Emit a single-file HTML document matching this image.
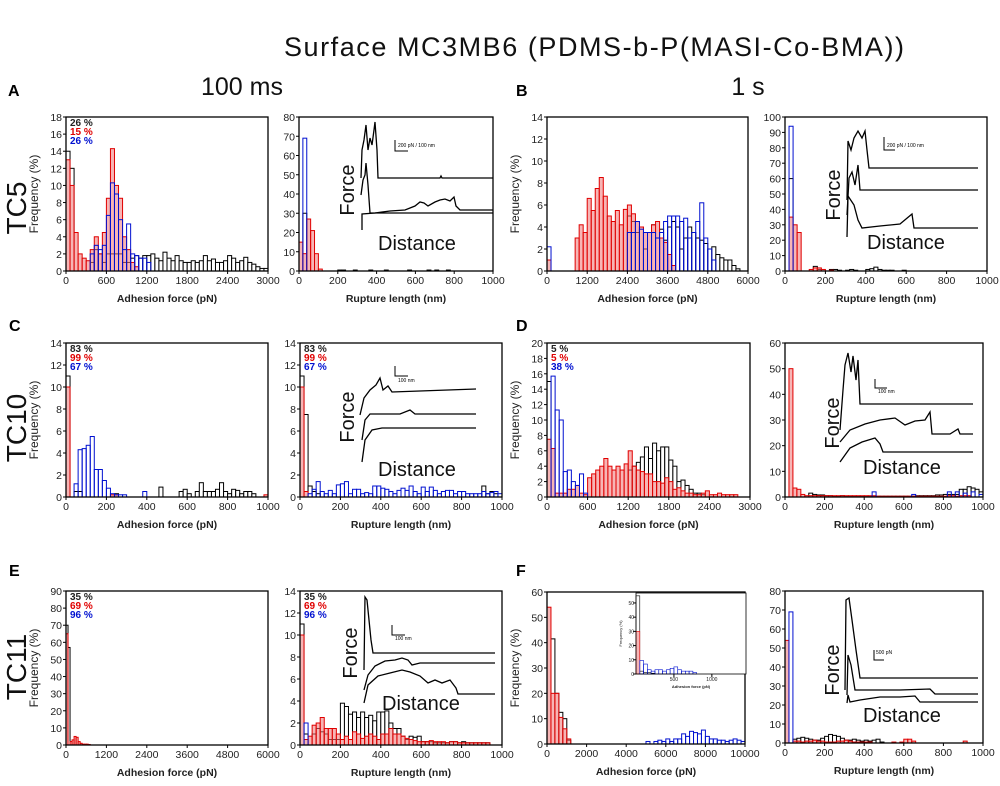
<!DOCTYPE html>
<html><head><meta charset="utf-8"><title>Surface MC3MB6 histograms</title>
<style>
html,body{margin:0;padding:0;background:#fff;}
svg{display:block;font-family:"Liberation Sans",sans-serif;}
</style></head>
<body>
<svg id="fig" width="1000" height="786" viewBox="0 0 1000 786" xmlns="http://www.w3.org/2000/svg">
<text x="594" y="56" text-anchor="middle" font-size="27" textLength="620" fill="#111">Surface MC3MB6 (PDMS-b-P(MASI-Co-BMA))</text>
<text x="242" y="95" text-anchor="middle" font-size="25" fill="#111">100 ms</text>
<text x="748" y="95" text-anchor="middle" font-size="25" fill="#111">1 s</text>
<g font-weight="bold" font-size="16" fill="#000">
<text x="8" y="96">A</text>
<text x="516" y="96">B</text>
<text x="9" y="331">C</text>
<text x="516" y="331">D</text>
<text x="9" y="576">E</text>
<text x="516" y="576">F</text>
</g>
<g font-size="28" fill="#111">
<text transform="translate(26,208) rotate(-90)" text-anchor="middle">TC5</text>
<text transform="translate(26,428) rotate(-90)" text-anchor="middle">TC10</text>
<text transform="translate(26,667) rotate(-90)" text-anchor="middle">TC11</text>
</g>
<g id="panels"></g>
<g id="insets" fill="none" stroke="#000" stroke-width="1.3">
<g>
<polyline points="361,178 362,150 364,140 366,125 368,150 370,138 372,145 374,130 375,122 377,150 378,178 420,178 440,178 441,176 442,178 493,178"/>
<polyline points="361,195 363,180 365,175 366,163 368,185 370,213 420,213 440,213 493,213"/>
<polyline points="362,230 362,214 375,213 390,211 405,210 415,206 420,202 424,203 428,206 435,202 440,200 445,199 450,201 454,197 456,206 460,210 493,210"/>
<polyline stroke-width="1" points="395,140 395,151 408,151"/>
</g>
<g>
<polyline points="847,200 848,141 851,150 854,138 858,131 862,138 865,131 867,150 869,168 978,168"/>
<polyline points="847,215 849,178 852,172 855,185 858,165 860,190 978,190"/>
<polyline points="847,237 848,196 852,202 854,205 858,220 862,228 880,226 900,224 912,214 914,228 978,228"/>
<polyline stroke-width="1" points="884,137 884,150 895,150"/>
</g>
<g>
<polyline points="360,415 364,398 370,390 376,385 380,378 383,390 388,386 392,392 476,389"/>
<polyline points="362,440 365,420 370,414 400,414 410,410 415,414 476,414"/>
<polyline points="362,462 365,440 372,430 382,428 476,428"/>
<polyline stroke-width="1" points="395,366 395,376 408,376"/>
</g>
<g>
<polyline points="840,430 843,390 845,365 848,353 851,372 853,356 856,380 858,360 860,404 973,404"/>
<polyline points="840,442 850,430 865,424 880,420 895,418 905,425 915,421 925,420 930,412 932,434 950,434 958,429 960,434 973,434"/>
<polyline points="840,462 850,448 862,442 875,438 880,444 883,452 973,452"/>
<polyline stroke-width="1" points="875,379 875,388 887,388"/>
</g>
<g>
<polyline points="364,670 365,597 367,600 369,620 371,640 373,653 495,653"/>
<polyline points="364,690 368,675 375,666 385,661 395,660 402,658 408,660 412,665 420,663 430,663 495,663"/>
<polyline points="364,703 368,685 378,676 390,673 402,670 410,672 420,676 428,683 435,680 442,683 450,680 456,688 458,694 495,694"/>
<polyline stroke-width="1" points="392,625 392,635 405,635"/>
</g>
<g>
<polyline points="845,690 846,600 849,598 852,620 856,650 860,678 978,678"/>
<polyline points="847,695 848,655 851,665 855,690 900,690 930,689 935,694 978,694"/>
<polyline points="847,703 848,695 850,702 860,700 880,697 900,697 915,696 920,702 978,702"/>
<polyline stroke-width="1" points="874,650 874,660 884,660"/>
</g>
</g>
<g font-size="20" fill="#111">
<text transform="translate(354,190) rotate(-90)" text-anchor="middle">Force</text>
<text x="378" y="250">Distance</text>
<text transform="translate(840,195) rotate(-90)" text-anchor="middle">Force</text>
<text x="867" y="249">Distance</text>
<text transform="translate(354,417) rotate(-90)" text-anchor="middle">Force</text>
<text x="378" y="476">Distance</text>
<text transform="translate(839,423) rotate(-90)" text-anchor="middle">Force</text>
<text x="863" y="474">Distance</text>
<text transform="translate(357,653) rotate(-90)" text-anchor="middle">Force</text>
<text x="382" y="710">Distance</text>
<text transform="translate(839,670) rotate(-90)" text-anchor="middle">Force</text>
<text x="863" y="722">Distance</text>
</g>
<g font-size="5" fill="#000">
<text x="398" y="147">200 pN / 100 nm</text>
<text x="887" y="147">200 pN / 100 nm</text>
<text x="398" y="382">100 nm</text>
<text x="878" y="393">100 nm</text>
<text x="395" y="640">100 nm</text>
<text x="876" y="654">500 pN</text>
</g>
</svg>
<script>
const A1_black=[14,12,0,0,0,0,1,2.5,2,1,2,2,2,2,1,1,1.5,1.8,1.5,1.8,1.8,2,1.5,1.2,2.2,1.5,1.2,1.8,1.2,1,1,1.2,1,1.2,1.8,1.2,1.4,1,1,1.2,1.8,1.5,1,1.2,1.6,1,0.8,0.5,0.3,0.3];
const A1_red=[13,10,4.5,2,1.5,1.2,2.5,4,2,4.5,8.5,14.3,10,8.5,4,2.5,1,0.5];
const A1_blue=[0,0,0,0,0,0,2,3,2.5,3,6.5,10.3,9,6,2.5,5.5,2,1.8,1.5,1.5,1];
const A2_black=[0,30,0,0,0,0,0,0,0,0,0.5,0.5,0,0,0.5,0,0,0,0.5,0,0,0,0.5,0,0,0,0,0,0.5,0,0,0,0,0.5,0,0.5,0,0,0.5,0,0,0];
const A2_red=[15,9,27,21,9,1];
const A2_blue=[0,69];
const B1_black=[0,0,0,0,0,0,0,0,0,0,0,0,0,0,0,0,0,0,0,0,5,4.5,3.5,4,2,3.5,4.2,3,3.8,2.8,4,4.5,4,2,3,4,3.5,3,2.8,2.5,2,2.2,1.5,1.2,1,1,0.5,0.2];
const B1_red=[1,0,0,0,0,0,0,3,4.2,3.5,6.6,5.5,7.5,8.5,6.8,5,4.5,5.5,4.2,5.6,6,5.2,4.5,4,3.5,3.5,4.2,4.5,3,2.6,1.5,0.5];
const B1_blue=[2.2,0,0,0,0,0,0,0,0,0,0,0,0,0,0,0,0,0,0,0,3.5,3.5,4.5,3.8,3.5,3.5,3.5,3,3.5,4.5,5,5,5,4.5,4.8,3,3.5,4.5,6.2,3,2,1];
const B2_black=[0,60,0,0,0,0,0,3,1,0,0,1,1,0.5,0,0.5,1,0.5,0,0,1,1.5,2.5,1,0.5,0.5,0.5,0,0,0.5];
const B2_red=[0,35,30,25,0,0,1,2,2,1,0,0.5];
const B2_blue=[0,94];
const C1_black=[11,0,0.5,0.5,0,0,0,0,0,0,0,0,0.3,0,0,0,0,0,0,0,0,0,0,0.9,0,0,0,0,0.5,0.7,0.3,0,0.5,1.3,0.5,0.5,0.5,0.7,1.3,0.5,0.3,0.7,0.6,0.3,0.5,0.5,0.3];
const C1_red=[10,0,0,0,0,0,0,0,0,0,0,0.2,0.2,0,0,0,0,0,0,0,0,0,0,0,0,0,0,0,0,0,0,0,0,0,0,0,0,0,0,0,0,0,0,0,0,0,0,0,0,0.2];
const C1_blue=[0,0,1.2,4.3,4.4,4.7,5.5,2.5,2.5,1.5,0.8,0.3,0.2,0.2,0.2,0,0,0,0,0.5];
const C2_black=[11,7.5,1,0.5,0.3,0,0,0,0,0,0,0,0,0,0,0,0,0,0,0,0,0,0,0,0,0,0,0,0,0,0,0,0,0,0,0,0,0,0,0,0,0,0,0,0,1,0.3,0.5,0.3,0];
const C2_red=[10,0.5];
const C2_blue=[0,0,0.3,0.7,1.4,0.5,0.3,0.6,0.3,1.1,1.2,1.4,0.3,0.7,0.7,0.3,0.4,0.3,1,1,0.8,0.7,0.5,0.3,0.6,0.8,0.6,1,0.5,0.3,0.9,0.5,0.9,0.6,0.3,0.5,0.6,0.6,0.3,0.5,0.5,0.3,0.3,0.3,0.3,0.5,0.3,0.4,0.5,0.3];
const D1_black=[15,0,0,0,0,0,0,0,0,0,0,0,0,0,0,0,0,0,0,0,3.5,4,4.5,5.2,6.5,5,7,6,6.5,6.5,4.8,4,2,2.2,1.5,1,0.5,0.5,0.3];
const D1_red=[7.5,6.3,0.5,0.5,0.5,1,1,1.5,0.5,0.3,2.5,3,3.5,4,5,4,3.5,4,3.5,4.3,6,4,3.5,3.3,3,3,2,2,1.8,2.5,2,1,1.2,0.8,0.5,0.5,0.3,0.3,0.5,0.8,0.3,0.3,0.5,0.3,0.3,0.3,0.3];
const D1_blue=[0,15.7,11.3,10,3.3,3.5,2,1.5,3,0.5];
const D2_black=[0,0,0,0,0,0,1.5,1,0.8,0.8,0.5,0.5,0.3,0.3,0.5,0.3,0.3,0.3,0.3,0.3,0.3,0.3,0.3,0.3,0.3,0.3,0.3,0.3,0.3,0.3,0.3,0.3,0.3,0.5,0.5,0.5,0.5,0.5,0.8,0.8,1,1,1,1,3,3,4,3.5,3,2];
const D2_red=[0,50,3.5,3,1,0.5,0.5,0.5,0.5,0.5,0.5,0.5,0.5,0.5,0.5,0.5,0.5,0.5,0.5,0.5,0.5,0.5,0.5,0.3,0.3,0.3,0.3,0.3,0.3,0.3,0.3,0.3,0.3,0.3,0.3,0.3,0.3,0.3,0.3,0.3,0.3,0.5,0.5,0.3,0.5,0.5,0.5];
const D2_blue=[0,0,0,0,0,0,0,0,0,0,0,0,0,0,0,0,0,0,0,0,0,0,2,0,0,0,0,0,0,0,0,0,1,0,0,0,0,0,0,0,0,2,0,2,0,1.5,0,2,0,1];
const E1_black=[70,57];
const E1_red=[65,0,2,3,5,4.5,2,1,0.5,0.5,0.5,0.3];
const E1_blue=[];
const E2_black=[11,1,0,1,1.5,1.2,1,0.5,0.5,0.5,3.8,3.5,2.8,3,2.5,3,2.5,2.7,2.2,3,3,3.1,2,1.5,1.5,0.8,0.5,0.8,0.7,0.8,0.3,0.3,0.3,0.2,0.2,0.2,0.2,0.3,0.3,0.2,0.3,0.2,0.2,0.2,0.2,0.2,0.2];
const E2_red=[10,0.5,0.8,1.8,2,2.5,1.5,1.5,1.5,1,0.5,0.8,0.5,1.2,1,0.6,0.8,1,0.8,0.5,1,1,1.5,1,1,0.8,0.6,0.5,0.4,0.3,0.3,0.3,0.4,0.3,0.3,0.3,0.2,0.3,0.3,0.2,0.2,0.2,0.2,0.2,0.2,0.2,0.2];
const E2_blue=[0,2];
const F1_black=[0,41.5,20,12.5,10,1.5];
const F1_red=[54,20,20,10.5,6,2];
const F1_blue=[0,0,0,0,0,0,0,0,0,0,0,0,0,0,0,0,0,0,0,0,0,0,0,0,0,1,0,1,1.5,1,2,1,2,2,4,3,5,4.5,4,5.5,3,2,2,1.5,1.5,1,1.5,2,1.5,1];
const F1i_black=[55,2,1,1,0.5];
const F1i_red=[30];
const F1i_blue=[0,9.5,7,3,2,3,3,2,3,4,5,3,2,2,2,1];
const F2_black=[0,0,2,2.5,3,2.5,2,1.5,1.5,2.5,3.5,4.5,4,3.5,2.5,1.5,1.5,2,1.5,1,1.5,1,1.5,2,0.5];
const F2_red=[54,0,1,1,0.5,1,1,1.5,1,1,0.5,0.5,0.5,1,1,1.5,1,0.5,0.5,0.5,0.5,0.5,0,0,0,0,0,0.5,0,0.5,2,2,1,0,0,0,0,0,0,0,0,0,0,0,0,1];
const F2_blue=[0,69];

const panels=[
 {id:"a1",box:[66,117,268,271],xmax:3000,ymax:18,bw:60,xt:[0,600,1200,1800,2400,3000],yt:[0,2,4,6,8,10,12,14,16,18],k:A1_black,r:A1_red,b:A1_blue,xl:"Adhesion force (pN)",yl:true,pct:["26 %","15 %","26 %"]},
 {id:"a2",box:[299,117,493,271],xmax:1000,ymax:80,bw:20,xt:[0,200,400,600,800,1000],yt:[0,10,20,30,40,50,60,70,80],k:A2_black,r:A2_red,b:A2_blue,xl:"Rupture length (nm)"},
 {id:"b1",box:[547,117,748,271],xmax:6000,ymax:14,bw:120,xt:[0,1200,2400,3600,4800,6000],yt:[0,2,4,6,8,10,12,14],k:B1_black,r:B1_red,b:B1_blue,xl:"Adhesion force (pN)",yl:true},
 {id:"b2",box:[785,117,987,271],xmax:1000,ymax:100,bw:20,xt:[0,200,400,600,800,1000],yt:[0,10,20,30,40,50,60,70,80,90,100],k:B2_black,r:B2_red,b:B2_blue,xl:"Rupture length (nm)"},
 {id:"c1",box:[66,343,268,497],xmax:1000,ymax:14,bw:20,xt:[0,200,400,600,800,1000],yt:[0,2,4,6,8,10,12,14],k:C1_black,r:C1_red,b:C1_blue,xl:"Adhesion force (pN)",yl:true,pct:["83 %","99 %","67 %"]},
 {id:"c2",box:[300,343,502,497],xmax:1000,ymax:14,bw:20,xt:[0,200,400,600,800,1000],yt:[0,2,4,6,8,10,12,14],k:C2_black,r:C2_red,b:C2_blue,xl:"Rupture length (nm)",pct:["83 %","99 %","67 %"]},
 {id:"d1",box:[547,343,750,497],xmax:3000,ymax:20,bw:60,xt:[0,600,1200,1800,2400,3000],yt:[0,2,4,6,8,10,12,14,16,18,20],k:D1_black,r:D1_red,b:D1_blue,xl:"Adhesion force (pN)",yl:true,pct:["5 %","5 %","38 %"]},
 {id:"d2",box:[785,343,983,497],xmax:1000,ymax:60,bw:20,xt:[0,200,400,600,800,1000],yt:[0,10,20,30,40,50,60],k:D2_black,r:D2_red,b:D2_blue,xl:"Rupture length (nm)"},
 {id:"e1",box:[66,591,268,745],xmax:6000,ymax:90,bw:60,xt:[0,1200,2400,3600,4800,6000],yt:[0,10,20,30,40,50,60,70,80,90],k:E1_black,r:E1_red,b:E1_blue,xl:"Adhesion force (pN)",yl:true,pct:["35 %","69 %","96 %"]},
 {id:"e2",box:[300,591,502,745],xmax:1000,ymax:14,bw:20,xt:[0,200,400,600,800,1000],yt:[0,2,4,6,8,10,12,14],k:E2_black,r:E2_red,b:E2_blue,xl:"Rupture length (nm)",pct:["35 %","69 %","96 %"]},
 {id:"f1",box:[547,592,745,744],xmax:10000,ymax:60,bw:200,xt:[0,2000,4000,6000,8000,10000],yt:[0,10,20,30,40,50,60],k:F1_black,r:F1_red,b:F1_blue,xl:"Adhesion force (pN)",yl:true},
 {id:"f1-inset",box:[636,593,746,674],xmax:1450,ymax:57,bw:50,xt:[500,1000],yt:[0,10,20,30,40,50],k:F1i_black,r:F1i_red,b:F1i_blue,xl:"Adhesion force (pN)",small:true},
 {id:"f2",box:[785,591,983,743],xmax:1000,ymax:80,bw:20,xt:[0,200,400,600,800,1000],yt:[0,10,20,30,40,50,60,70,80],k:F2_black,r:F2_red,b:F2_blue,xl:"Rupture length (nm)"}
];

const NS="http://www.w3.org/2000/svg";
const root=document.getElementById("panels");
function mk(tag,attrs,parent){const e=document.createElementNS(NS,tag);for(const a in attrs)e.setAttribute(a,attrs[a]);parent.appendChild(e);return e;}

panels.forEach(p=>{
  const [x0,y0,x1,y1]=p.box;
  const X=v=>x0+v/p.xmax*(x1-x0);
  const Y=v=>y1-v/p.ymax*(y1-y0);
  const g=mk("g",{},root);
  
  
  mk("rect",{x:x0,y:y0,width:x1-x0,height:y1-y0,fill:"#fff",stroke:"none"},g);
  const series=[[p.k,"#000","#fff","black"],[p.r,"#e00000","rgba(240,120,120,0.55)","red"],[p.b,"#0010d0","none","blue"]];
  series.forEach(([arr,stroke,fill,nm])=>{
    arr.forEach((v,i)=>{
      if(!v)return;
      const xa=X(i*p.bw),xb=Math.min(X((i+1)*p.bw),x1);
      if(xa>=x1)return;
      const r=mk("rect",{x:xa,y:Y(Math.min(v,p.ymax)),width:Math.max(xb-xa,0.5),height:y1-Y(Math.min(v,p.ymax)),fill:fill,stroke:stroke,"stroke-width":p.small?0.6:1},g);
      
      
    });
  });
  mk("rect",{x:x0,y:y0,width:x1-x0,height:y1-y0,fill:"none",stroke:"#000","stroke-width":p.small?0.8:1.3},g);
  const fs=p.small?5:10.5;
  p.xt.forEach(t=>{
    mk("line",{x1:X(t),x2:X(t),y1:y1,y2:y1+3,stroke:"#000"},g);
    const tx=mk("text",{x:X(t),y:y1+(p.small?7:13),"text-anchor":"middle","font-size":fs,fill:"#222"},g);
    tx.textContent=t;
    
    
  });
  p.yt.forEach(t=>{
    mk("line",{x1:x0-3,x2:x0,y1:Y(t),y2:Y(t),stroke:"#000"},g);
    const tx=mk("text",{x:x0-(p.small?2:4),y:Y(t)+(p.small?2:4),"text-anchor":"end","font-size":fs,fill:"#222"},g);
    tx.textContent=t;
    
    
  });
  const xl=mk("text",{x:(x0+x1)/2,y:y1+(p.small?14:31),"text-anchor":"middle","font-size":p.small?4:10.5,"font-weight":"bold",fill:"#222"},g);
  xl.textContent=p.xl;
  
  
  if(p.yl||p.small){
    const cx=p.small?x0-14:x0-28;
    const yl=mk("text",{transform:`translate(${cx},${(y0+y1)/2}) rotate(-90)`,"text-anchor":"middle","font-size":p.small?4:12,fill:"#222"},g);
    yl.textContent="Frequency (%)";
    
    
  }
  if(p.pct){
    ["#222","#e00000","#0010d0"].forEach((c,i)=>{
      const t=mk("text",{x:x0+4,y:y0+9+i*9,"font-size":10,"font-weight":"bold",fill:c},g);
      t.textContent=p.pct[i];
      
      
    });
  }
});
</script>
</body></html>
